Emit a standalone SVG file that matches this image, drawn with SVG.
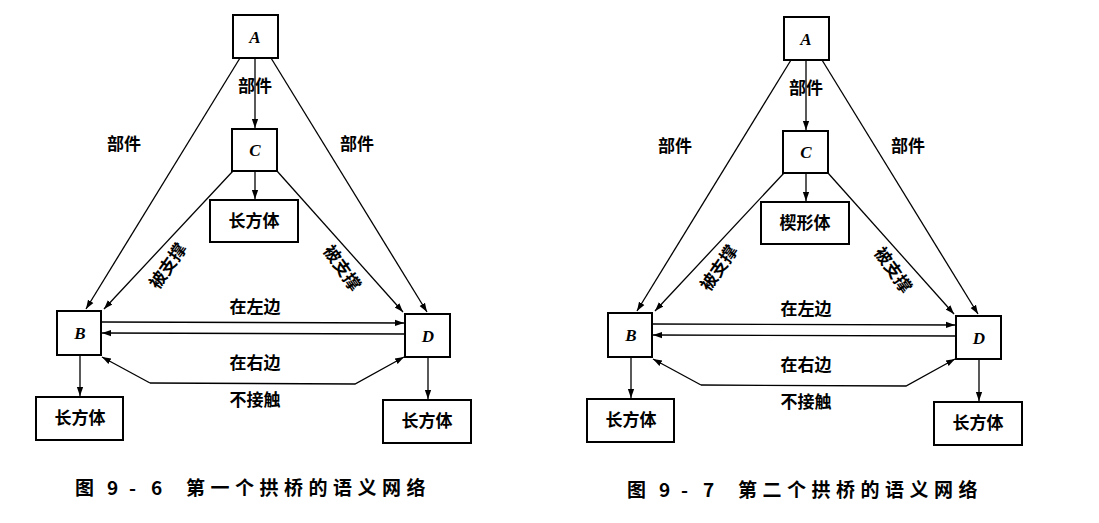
<svg xmlns="http://www.w3.org/2000/svg" width="1099" height="523" viewBox="0 0 1099 523">
<defs>
<marker id="ar" viewBox="0 0 10 10" refX="10" refY="5" markerWidth="9" markerHeight="9" orient="auto" markerUnits="userSpaceOnUse"><path d="M0,1.5 L10,5 L0,8.5 Z" fill="#000"/></marker>
<style>
rect{fill:#fff;stroke:#000;stroke-width:2}
.l{fill:none;stroke:#000;stroke-width:1.3;marker-end:url(#ar)}
.t{font-family:"Noto Sans CJK SC","Noto Sans",sans-serif;font-weight:bold;font-size:17px;text-anchor:middle;fill:#000}
.i{font-family:"Liberation Serif",serif;font-style:italic;font-weight:bold;font-size:17px;text-anchor:middle;fill:#000}
.c{font-family:"Noto Sans CJK SC",sans-serif;font-weight:bold;font-size:19px;fill:#000}
.s{letter-spacing:5.5px}
</style>
</defs>
<rect x="0" y="0" width="1099" height="523" style="fill:#fff;stroke:none"/>
<g id="fig1">
<g id="connectors1">
<path class="l" d="M240,58 L86,309"/>
<path class="l" d="M271,58 L427,312"/>
<path class="l" d="M255,58 L255,128"/>
<path class="l" d="M233,171 L104,309"/>
<path class="l" d="M277,171 L403,312"/>
<path class="l" d="M255,171 L255,199"/>
<path class="l" d="M101,322 L404,323"/>
<path class="l" d="M404,334 L102,333"/>
<path class="l" d="M150,383 L355,384 L404,357"/>
<path class="l" d="M150,383 L102,357"/>
<path class="l" d="M80,355 L80,396"/>
<path class="l" d="M428,357 L428,399"/>
<text class="t" x="255" y="92">部件</text>
<text class="t" x="124" y="150">部件</text>
<text class="t" x="357" y="150">部件</text>
<text class="t" transform="translate(168,266) rotate(-55)" y="6">被支撑</text>
<text class="t" transform="translate(342,268) rotate(55)" y="6">被支撑</text>
<text class="t" x="255" y="313">在左边</text>
<text class="t" x="255" y="369">在右边</text>
<text class="t" x="255" y="406">不接触</text>
</g>
<g id="A1"><rect x="233" y="15" width="45" height="43"/><text class="i" x="255" y="43">A</text></g>
<g id="C1"><rect x="232" y="129" width="45" height="42"/><text class="i" x="255" y="156">C</text></g>
<g id="C1box"><rect x="210" y="200" width="88" height="42"/><text class="t" x="254" y="227">长方体</text></g>
<g id="B1"><rect x="57" y="311" width="44" height="44"/><text class="i" x="80" y="339">B</text></g>
<g id="D1"><rect x="405" y="314" width="45" height="43"/><text class="i" x="428" y="342">D</text></g>
<g id="B1box"><rect x="36" y="397" width="87" height="43"/><text class="t" x="80" y="424">长方体</text></g>
<g id="D1box"><rect x="383" y="400" width="88" height="43"/><text class="t" x="427" y="427">长方体</text></g>
<text class="c" y="495"><tspan x="75">图</tspan><tspan x="107">9</tspan><tspan x="129">-</tspan><tspan x="151">6</tspan><tspan x="186" class="s">第一个拱桥的语义网络</tspan></text>
</g>
<g id="fig2" transform="translate(551,2)">
<g id="connectors2">
<path class="l" d="M240,58 L86,309"/>
<path class="l" d="M271,58 L427,312"/>
<path class="l" d="M255,58 L255,128"/>
<path class="l" d="M233,171 L104,309"/>
<path class="l" d="M277,171 L403,312"/>
<path class="l" d="M255,171 L255,199"/>
<path class="l" d="M101,322 L404,323"/>
<path class="l" d="M404,334 L102,333"/>
<path class="l" d="M150,383 L355,384 L404,357"/>
<path class="l" d="M150,383 L102,357"/>
<path class="l" d="M80,355 L80,396"/>
<path class="l" d="M428,357 L428,399"/>
<text class="t" x="255" y="92">部件</text>
<text class="t" x="124" y="150">部件</text>
<text class="t" x="357" y="150">部件</text>
<text class="t" transform="translate(168,266) rotate(-55)" y="6">被支撑</text>
<text class="t" transform="translate(342,268) rotate(55)" y="6">被支撑</text>
<text class="t" x="255" y="313">在左边</text>
<text class="t" x="255" y="369">在右边</text>
<text class="t" x="255" y="406">不接触</text>
</g>
<g id="A2"><rect x="233" y="15" width="45" height="43"/><text class="i" x="255" y="43">A</text></g>
<g id="C2"><rect x="232" y="129" width="45" height="42"/><text class="i" x="255" y="156">C</text></g>
<g id="C2box"><rect x="210" y="200" width="88" height="42"/><text class="t" x="254" y="227">楔形体</text></g>
<g id="B2"><rect x="57" y="311" width="44" height="44"/><text class="i" x="80" y="339">B</text></g>
<g id="D2"><rect x="405" y="314" width="45" height="43"/><text class="i" x="428" y="342">D</text></g>
<g id="B2box"><rect x="36" y="397" width="87" height="43"/><text class="t" x="80" y="424">长方体</text></g>
<g id="D2box"><rect x="383" y="400" width="88" height="43"/><text class="t" x="427" y="427">长方体</text></g>
<text class="c" y="495"><tspan x="76">图</tspan><tspan x="108">9</tspan><tspan x="130">-</tspan><tspan x="152">7</tspan><tspan x="187" class="s">第二个拱桥的语义网络</tspan></text>
</g>
</svg>
